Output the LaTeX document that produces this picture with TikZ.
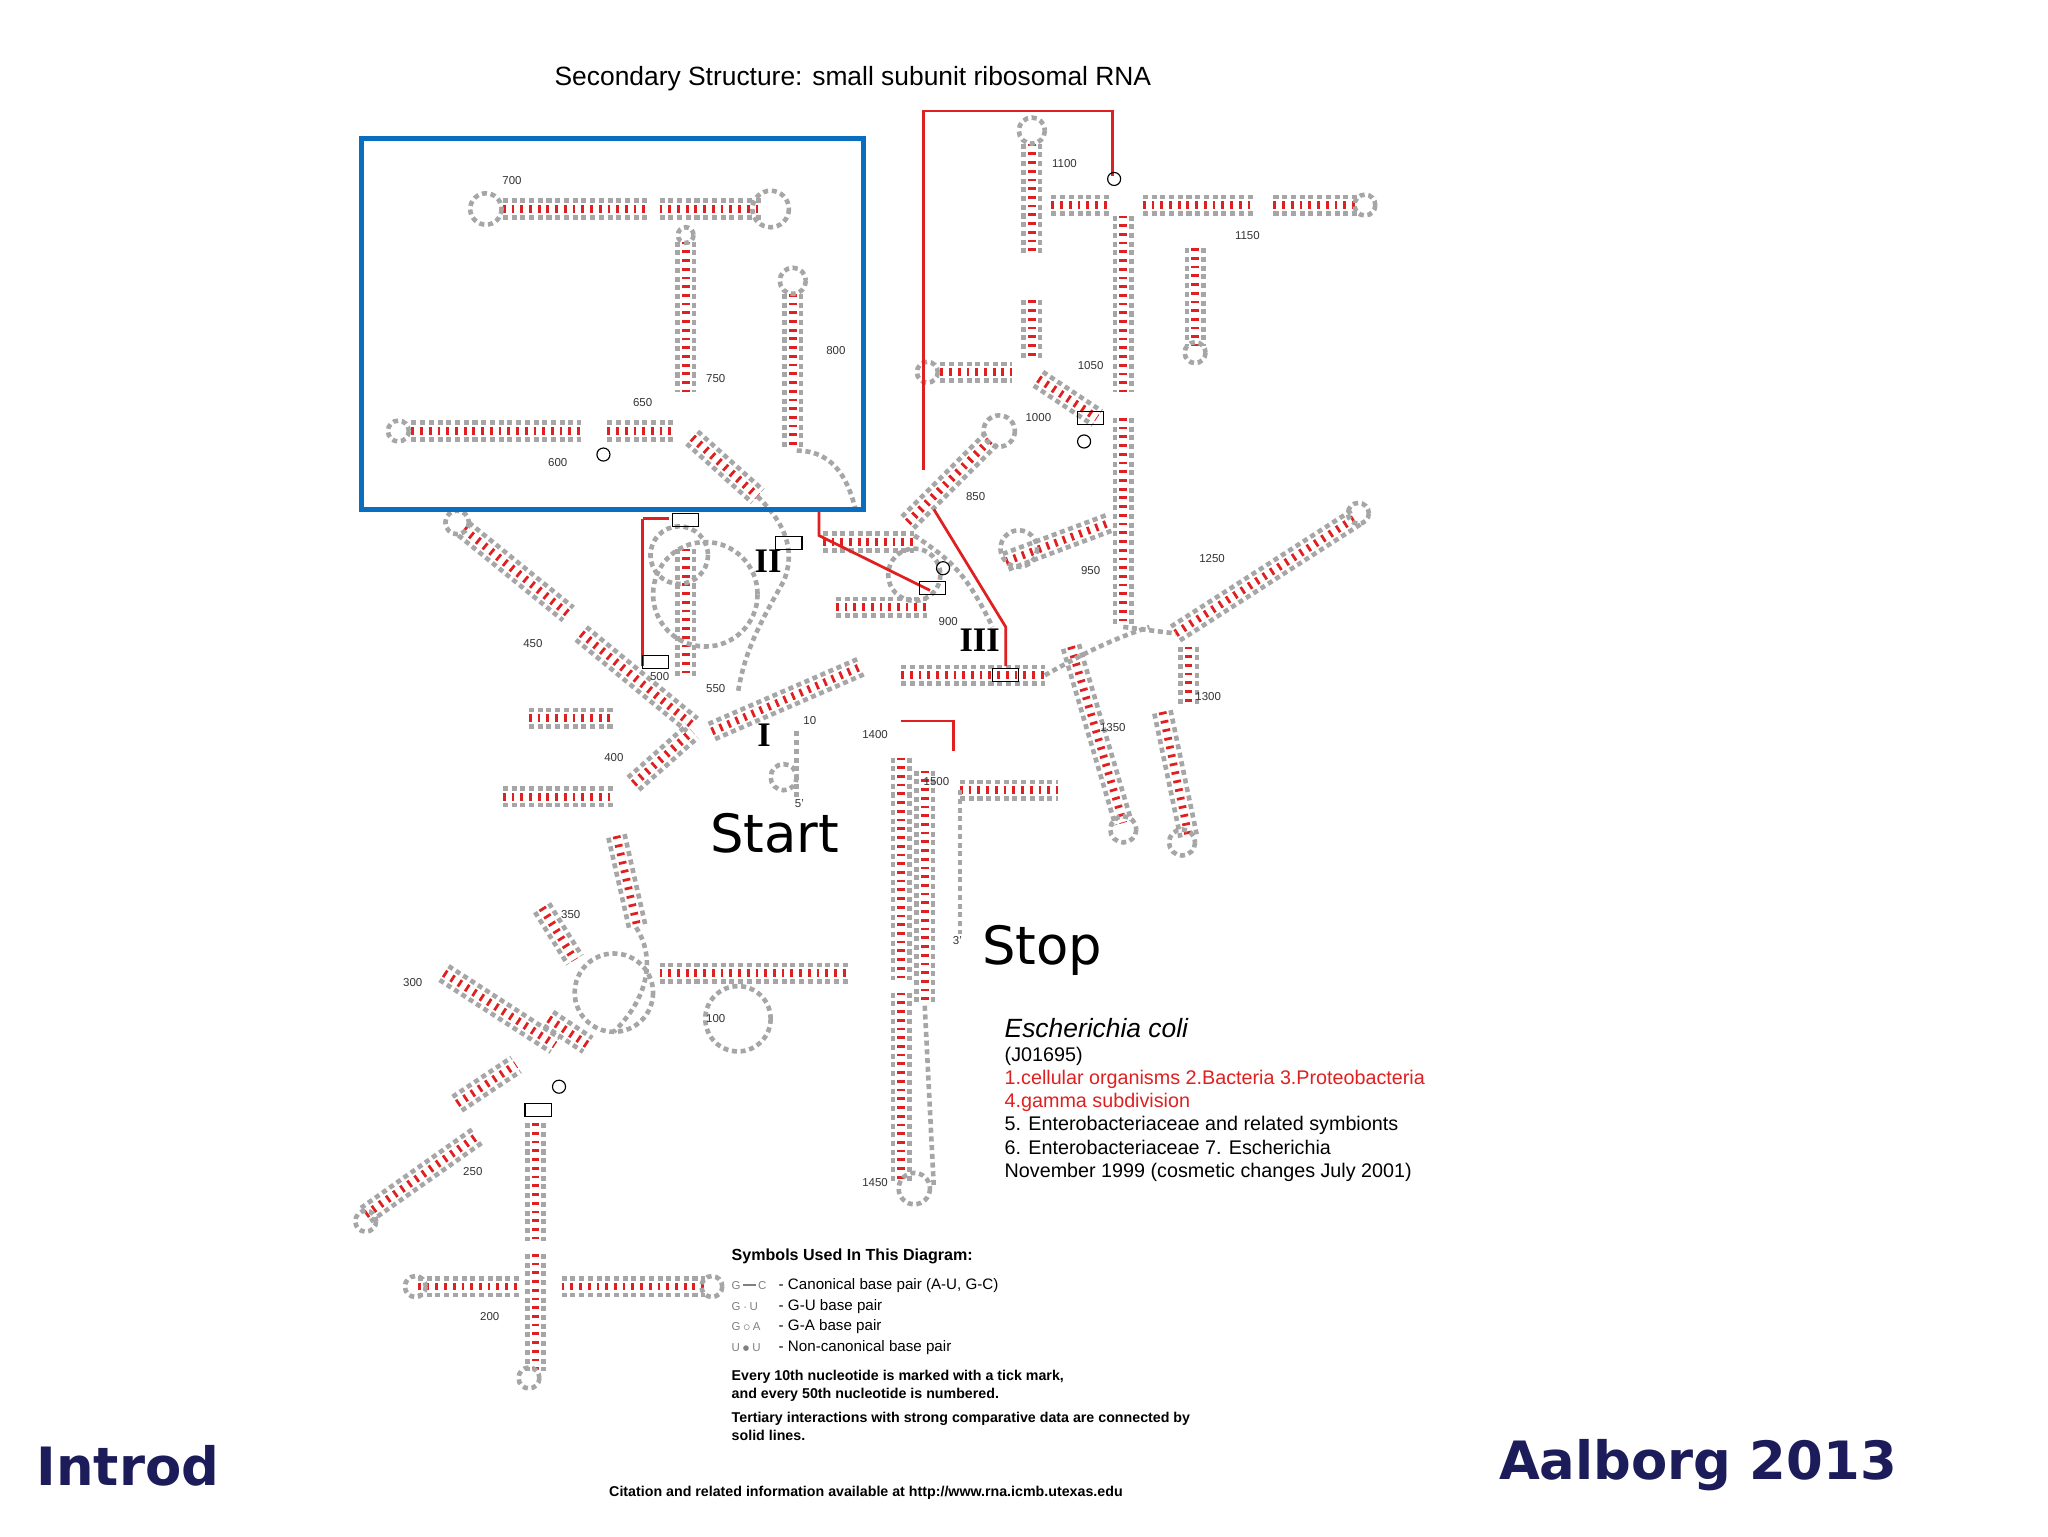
\documentclass[tikz,border=0pt]{standalone}
\usepackage{fontspec}
\setmainfont{Liberation Sans}
\newfontfamily\dejavu{DejaVu Sans}
\usetikzlibrary{calc}
\definecolor{navy}{HTML}{1C1C5A}
\definecolor{boxblue}{HTML}{0A6EC0}
\definecolor{rnared}{HTML}{E02020}
\tikzset{
 side/.style={gray!70,line width=2pt,dash pattern=on 2.2pt off 1.6pt},
 pair/.style={rnared,line width=3.4pt,dash pattern=on 1.2pt off 2.6pt},
 strand/.style={gray!70,line width=2pt,dash pattern=on 2.2pt off 1.6pt},
 tline/.style={rnared,line width=1.2pt},
 lbl/.style={font=\fontsize{5}{6}\selectfont,text=black!80},
 roman/.style={font=\fontspec{Liberation Serif}\bfseries\fontsize{15}{16}\selectfont},
}
\newcommand\stem[2]{%
 \draw[side] ($(#1)!3.6pt!90:(#2)$) -- ($(#2)!3.6pt!-90:(#1)$);
 \draw[side] ($(#1)!3.6pt!-90:(#2)$) -- ($(#2)!3.6pt!90:(#1)$);
 \draw[pair] (#1) -- (#2);}
\begin{document}
\begin{tikzpicture}[x=0.2mm,y=-0.2mm]
\useasboundingbox (0,0) rectangle (1568,1176);
\fill[white] (0,0) rectangle (1568,1176);
\node (title) at (653,60) {\fontsize{11.5}{13}\selectfont Secondary Structure: small subunit ribosomal RNA};
% stems
\foreach \xa/\ya/\xb/\yb in {
 385/160/495/160, 505/160/585/160, 525/185/525/300, 607/225/607/345,
 315/330/445/330, 465/330/515/330, 530/335/580/380,
 790/110/790/195, 805/157/850/157, 875/157/960/157, 975/157/1040/157,
 860/165/860/300, 860/320/860/480, 915/190/915/265,
 720/285/775/285, 790/230/790/275, 795/290/840/320,
 695/400/760/335, 355/405/435/470, 445/485/530/555,
 525/420/525/520, 690/517/800/517, 545/560/660/510,
 405/550/470/550, 385/610/470/610, 485/600/530/560,
 472/640/488/710, 415/695/440/735, 505/745/650/745,
 340/745/425/800, 420/780/450/800,
 280/930/365/870, 350/845/395/815, 410/860/410/950, 410/960/410/1050,
 320/985/400/985, 430/985/540/985,
 690/580/690/750, 690/760/690/905, 708/590/708/770,
 735/605/810/605, 900/485/1040/395, 820/495/860/630,
 890/545/910/640, 770/430/850/400, 630/415/700/415, 640/465/710/465,
 910/495/910/540}
 {\stem{\xa,\ya}{\xb,\yb}}
% loops
\foreach \x/\y/\r in {372/160/12,590/160/14,525/180/6,607/215/10,305/330/8,
 790/100/10,1045/157/8,915/270/8,710/285/8,765/330/12,350/400/9,
 520/425/22,280/935/8,405/1055/8,318/985/8,545/985/8,700/910/12,
 1040/393/8,860/635/10,905/645/10,470/760/30,565/780/25,540/455/40,
 700/440/20,780/420/14,600/595/10}
 {\draw[strand] (\x,\y) circle (\r);}
% connecting strands
\draw[strand] (610,345) .. controls (640,345) and (650,370) .. (655,390);
\draw[strand] (580,380) .. controls (600,400) and (610,420) .. (600,445) .. controls (580,480) and (570,500) .. (565,530);
\draw[strand] (610,560) -- (610,610);
\draw[strand] (800,517) .. controls (830,500) and (850,490) .. (880,480);
\draw[strand] (860,480) -- (900,485);
\draw[strand] (487,710) .. controls (500,730) and (500,760) .. (470,790);
\draw[strand] (708,770) -- (715,910);
\draw[strand] (735,605) -- (735,715);
\draw[strand] (700,410) .. controls (730,430) and (740,440) .. (760,480);
% tertiary red lines
\draw[tline] (707,360) -- (707,85) -- (852,85) -- (852,135);
\draw[tline] (492,397) -- (492,510);
\draw[tline] (492,397) -- (512,397);
\draw[tline] (627,390) -- (627,410) -- (712,452);
\draw[tline] (715,390) -- (770,480) -- (770,510);
\draw[tline] (690,552) -- (730,552) -- (730,575);
\foreach \x/\y in {525/398,604/416,502/507,714/450,770/517,412/850,835/320}
 \draw[black,line width=0.5pt] (\x-10,\y-5) rectangle (\x+10,\y+5);
\foreach \x/\y in {462/348,853/137,722/435,830/338,428/832}
 \draw[black,line width=0.5pt] (\x,\y) circle (5);
% numbers
\foreach \x/\y/\t in {548/290/750,640/268/800,747/380/850,726/476/900,955/180/1150,
 815/125/1100,835/280/1050,795/320/1000,835/437/950,928/428/1250,925/533/1300,
 852/557/1350,670/562/1400,717/598/1500,670/905/1450,548/780/100,375/1008/200,
 362/897/250,316/752/300,437/700/350,470/580/400,408/493/450,505/518/500,548/527/550,
 427/354/600,492/308/650,392/138/700,620/552/10,612/615/5',733/720/3'}
 \node[lbl] at (\x,\y) {\t};
% roman numerals
\node[roman] (r2) at (588,430) {II};
\node[roman] (r3) at (750,490) {III};
\node[roman] (r1) at (585,563) {I};
% Start/Stop
\node (start) at (593,638) {\dejavu\fontsize{23}{28}\selectfont Start};
\node (stop) at (798,728) {\dejavu\fontsize{23}{28}\selectfont Stop};
% blue box
\draw[boxblue,line width=0.8mm] (277,106) rectangle (661,390);
% organism text
\node[anchor=west] (eco) at (763,787) {\fontsize{11.5}{14}\selectfont\itshape Escherichia coli};
\node[anchor=west,align=left,font=\fontsize{8.6}{10.1}\selectfont] (info) at (763,853) {(J01695)\\
\textcolor{rnared}{1.cellular organisms 2.Bacteria 3.Proteobacteria}\\
\textcolor{rnared}{4.gamma subdivision}\\
5. Enterobacteriaceae and related symbionts\\
6. Enterobacteriaceae 7. Escherichia\\
November 1999 (cosmetic changes July 2001)};
% legend
\node[anchor=west,font=\bfseries\fontsize{7}{8}\selectfont] (lg) at (554,962) {Symbols Used In This Diagram:};
\foreach \y/\s/\t in {984/{G\,\rule[0.5ex]{6pt}{0.8pt}\,C}/{Canonical base pair (A-U, G-C)},
 1000/{G\,$\cdot$\,U}/{G-U base pair},1016/{G\,$\circ$\,A}/{G-A base pair},1032/{U\,$\bullet$\,U}/{Non-canonical base pair}}
 {\node[anchor=west,font=\fontsize{5}{6}\selectfont,text=gray] at (554,\y) {\s};
  \node[anchor=west,font=\fontsize{6.6}{8}\selectfont] at (590,\y) {- \t};}
\node[anchor=west,align=left,font=\bfseries\fontsize{6.2}{7.6}\selectfont] (lg2) at (554,1061) {Every 10th nucleotide is marked with a tick mark,\\and every 50th nucleotide is numbered.};
\node[anchor=west,align=left,font=\bfseries\fontsize{6.2}{7.6}\selectfont] (lg3) at (554,1092) {Tertiary interactions with strong comparative data are connected by\\solid lines.};
\node[font=\bfseries\fontsize{6.2}{8}\selectfont] (cit) at (663,1143) {Citation and related information available at http://www.rna.icmb.utexas.edu};
% footer
\node[text=navy] (intro) at (98,1122) {\dejavu\bfseries\fontsize{23}{28}\selectfont Introd};
\node[text=navy] (aal) at (1300,1122) {\dejavu\bfseries\fontsize{23}{28}\selectfont Aalborg 2013};
\end{tikzpicture}
\end{document}
